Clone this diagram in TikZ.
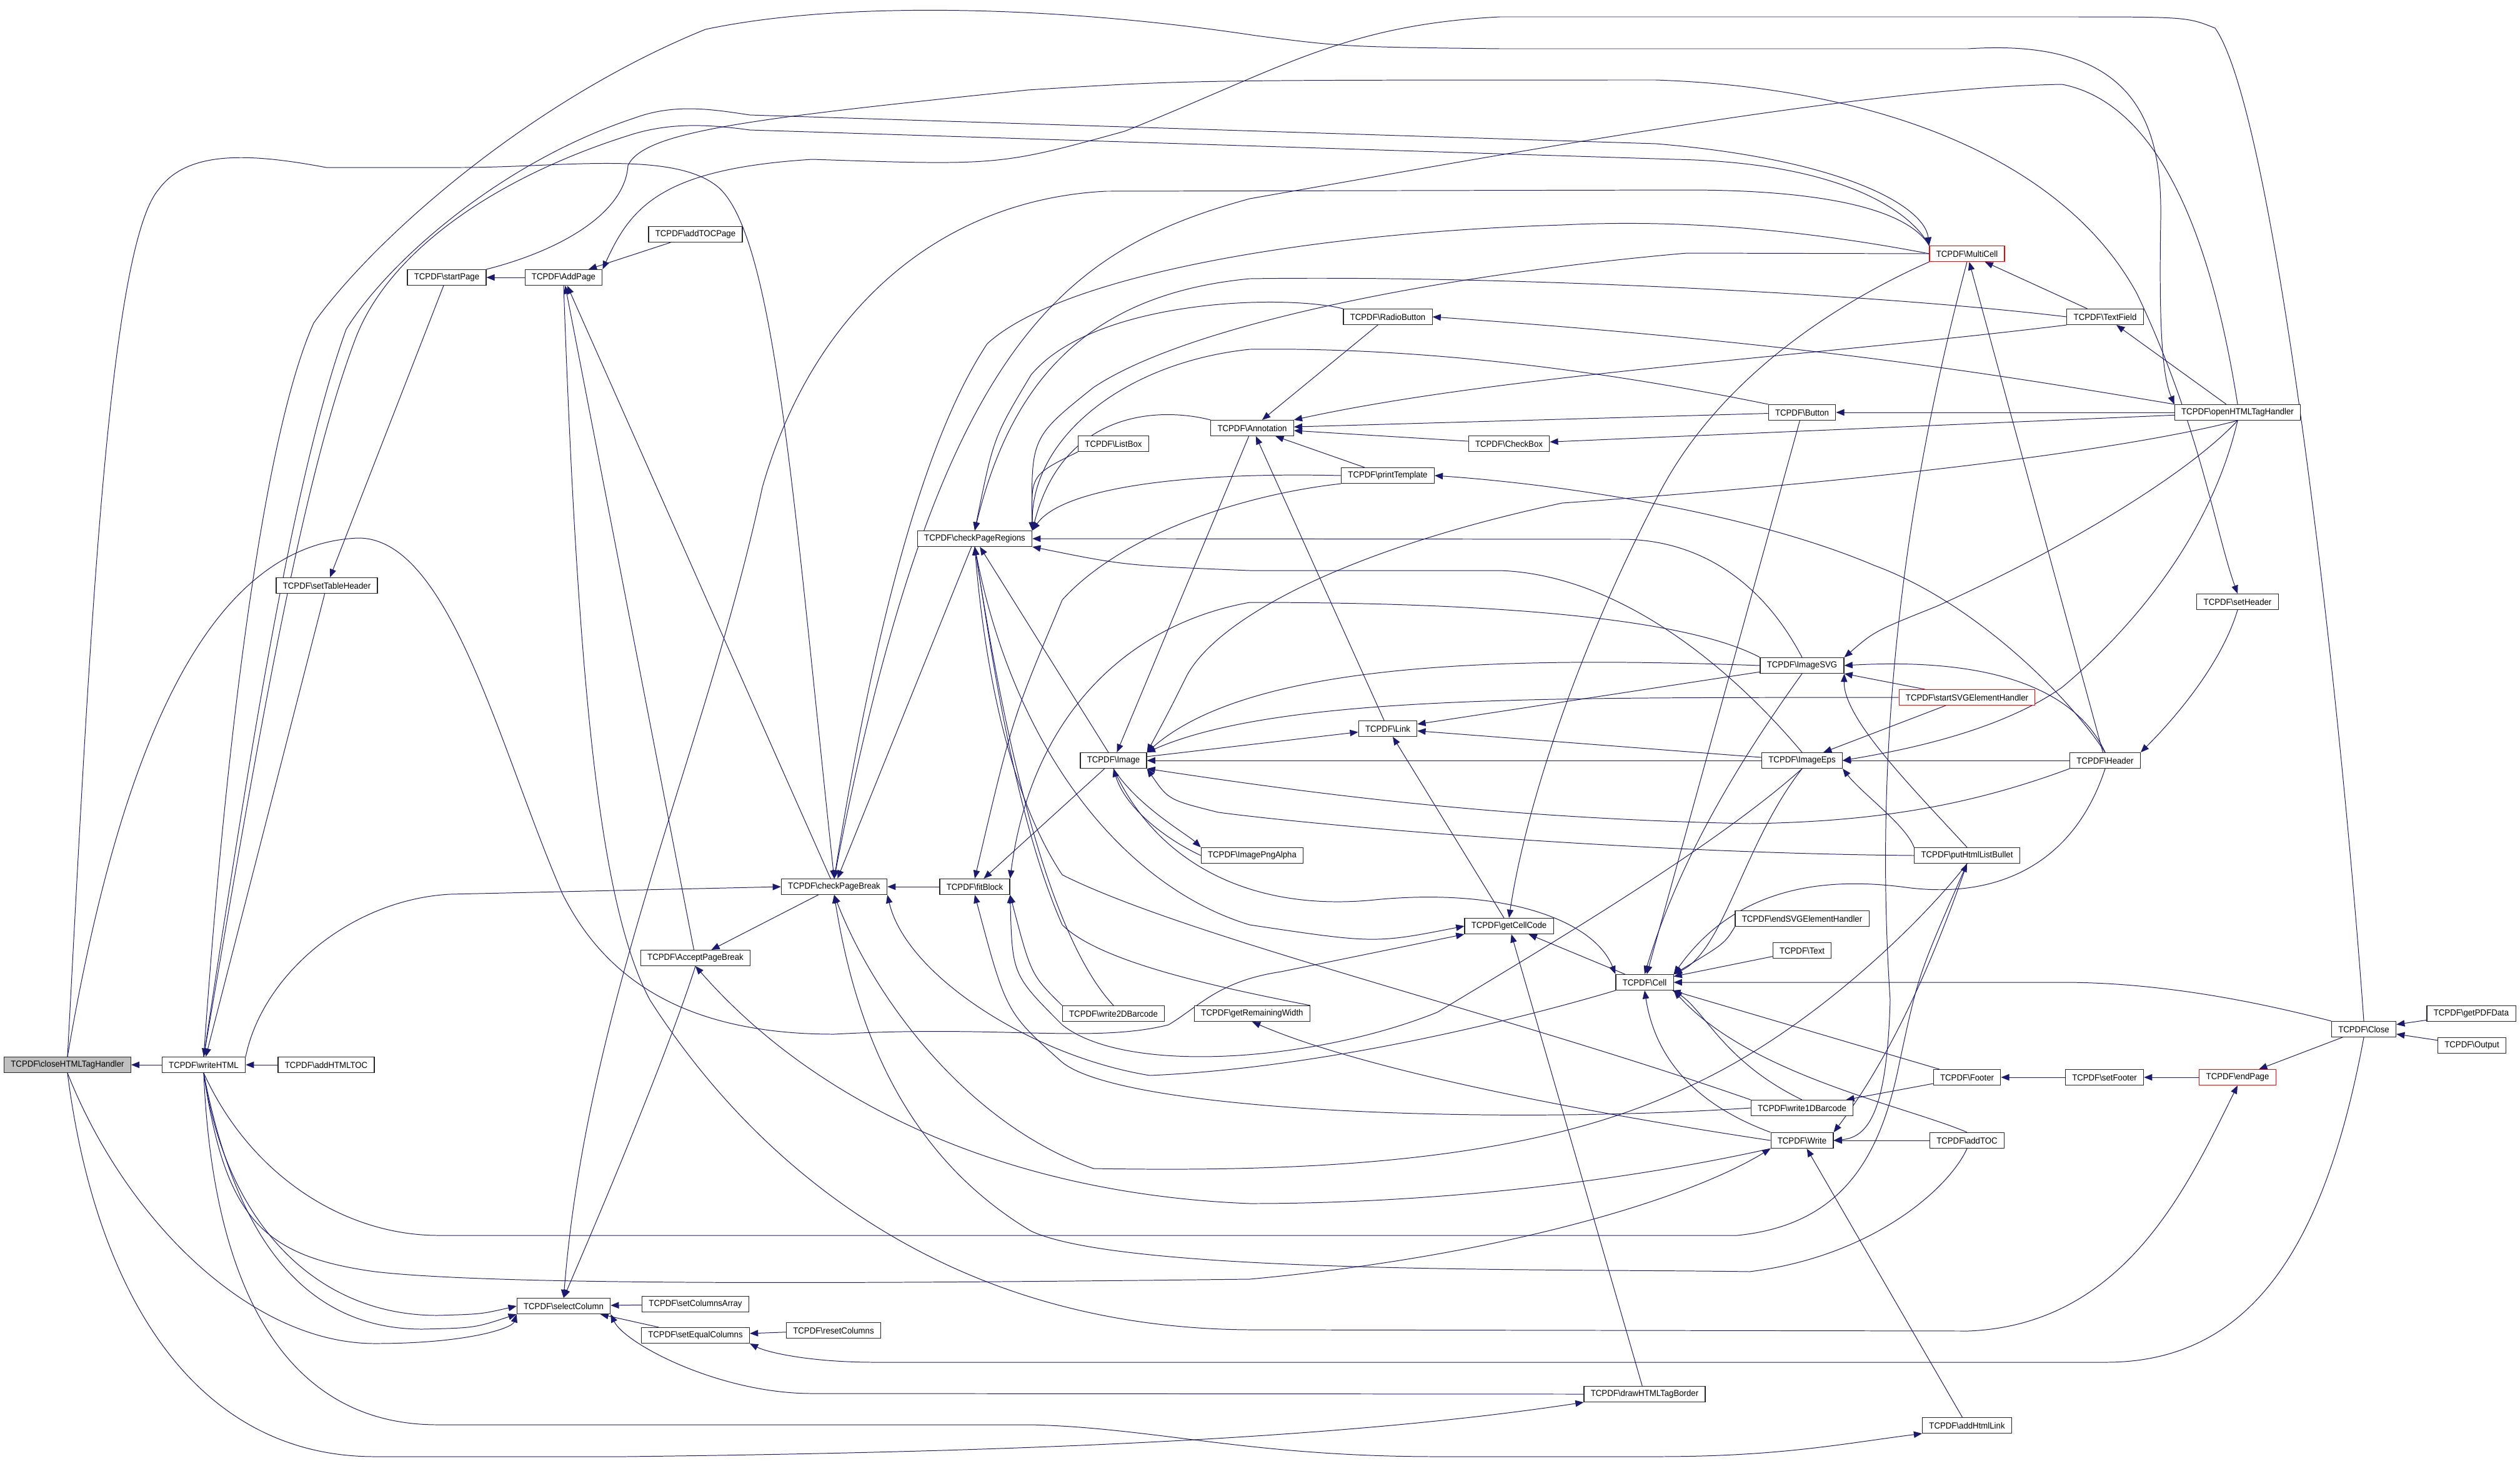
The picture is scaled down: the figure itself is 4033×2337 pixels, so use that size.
\documentclass[tikz,border=0pt]{standalone}
\usepackage{fontspec}
\newfontfamily\dxfont{Liberation Sans}[FakeStretch=0.94]
\usepackage{tikz}
\usetikzlibrary{arrows.meta,backgrounds}
\definecolor{doxyblue}{RGB}{25,25,112}
\definecolor{rootgray}{RGB}{191,191,191}

\begin{document}
\begin{tikzpicture}[x=0.025cm, y=-0.025cm,
    fn/.style={draw=black!85, line width=0.8pt, fill=white, minimum height=0.625cm,
        inner xsep=0.27cm, inner ysep=0pt, font=\dxfont\fontsize{10}{12}\selectfont},
    rootfn/.style={fn, fill=rootgray},
    cutfn/.style={fn, draw=red},
    cg/.style={doxyblue, line width=0.7pt, -{Triangle[length=3.3mm,width=2.6mm]}}]
\useasboundingbox (0,0) rectangle (4033,2337);

% Draw the function boxes
\node[rootfn] (closeHTML) at (108,1704) {TCPDF\textbackslash closeHTMLTagHandler};
\node[cutfn] (MultiCell) at (3148,406) {TCPDF\textbackslash MultiCell};
\node[cutfn] (startSVG) at (3148,1116) {TCPDF\textbackslash startSVGElementHandler};
\node[cutfn] (endPage) at (3581,1724) {TCPDF\textbackslash endPage};
\foreach \name/\x/\y/\fname in {writeHTML/326/1704/writeHTML, addHTMLTOC/522/1704/addHTMLTOC,
    setTableHeader/523/937/setTableHeader, startPage/715/444/startPage, AddPage/902/444/AddPage,
    addTOCPage/1113/375/addTOCPage, checkPageBreak/1335/1419/checkPageBreak,
    AcceptPageBreak/1113/1533/AcceptPageBreak, selectColumn/902/2090/selectColumn,
    setColumnsArray/1113/2087/setColumnsArray, setEqualColumns/1113/2137/setEqualColumns,
    resetColumns/1334/2129/resetColumns, checkPageRegions/1560/862/checkPageRegions,
    ListBox/1782/710/ListBox, Annotation/2004/685/Annotation, RadioButton/2221/507/RadioButton,
    CheckBox/2415/710/CheckBox, printTemplate/2221/761/printTemplate, Link/2221/1166/Link,
    Image/1782/1217/Image, ImagePngAlpha/2004/1369/ImagePngAlpha,
    write2DBarcode/1782/1622/write2DBarcode, getRemainingWidth/2004/1622/getRemainingWidth,
    fitBlock/1560/1419/fitBlock, getCellCode/2415/1482/getCellCode, Cell/2632/1572/Cell,
    Button/2884/660/Button, ImageSVG/2884/1065/ImageSVG, ImageEps/2884/1217/ImageEps,
    TextField/3369/507/TextField, openHTML/3581/660/openHTMLTagHandler,
    setHeader/3581/963/setHeader, Header/3369/1217/Header, putBullet/3148/1369/putHtmlListBullet,
    endSVG/2884/1470/endSVGElementHandler, Text/2884/1521/Text,
    write1DBarcode/2884/1773/write1DBarcode, Write/2884/1825/Write, Footer/3148/1724/Footer,
    setFooter/3368/1724/setFooter, Close/3783/1647/Close, getPDFData/3955/1622/getPDFData,
    Output/3956/1673/Output, addTOC/3148/1825/addTOC, drawBorder/2632/2231/drawHTMLTagBorder,
    addHtmlLink/3148/2281/addHtmlLink} {
    \node[fn] (\name) at (\x,\y) {TCPDF\textbackslash\fname};
}

\begin{scope}[on background layer]
% Draw the short calls
\foreach \from/\to in {writeHTML/closeHTML, addHTMLTOC/writeHTML, setTableHeader/writeHTML,
    startPage/setTableHeader, AddPage/startPage, addTOCPage/AddPage, checkPageBreak/AddPage,
    AcceptPageBreak/AddPage, checkPageBreak/AcceptPageBreak, checkPageRegions/checkPageBreak,
    fitBlock/checkPageBreak, setColumnsArray/selectColumn, setEqualColumns/selectColumn,
    resetColumns/setEqualColumns, drawBorder/getCellCode, addHtmlLink/Write, endPage/setFooter,
    setFooter/Footer, Close/endPage, getPDFData/Close, Output/Close, Footer/Cell,
    Footer/write1DBarcode, Header/ImageEps, Header/MultiCell, openHTML/TextField, openHTML/Button,
    openHTML/CheckBox, TextField/MultiCell, RadioButton/Annotation, Button/Annotation, Button/Cell,
    CheckBox/Annotation, printTemplate/Annotation, Annotation/Image, Link/Annotation, Image/Link,
    ImageSVG/Link, ImageEps/Link, getCellCode/Link, Image/checkPageRegions, Image/fitBlock,
    ImageEps/Image, startSVG/ImageSVG, startSVG/ImageEps, Text/Cell, addTOC/Write, Cell/getCellCode} {
    \draw[cg] (\from) -- (\to);
}

% Long calls over the top
\draw[cg] (Close.north) .. controls (3745,1100) and (3640,180) .. (3545,45) .. controls (3500,27) .. (3300,27) -- (2400,27) .. controls (2150,40) and (2050,110) .. (1800,210) .. controls (1600,265) .. (1300,255) .. controls (1060,270) and (1010,330) .. (AddPage.north east);
\draw[cg] (writeHTML.north) .. controls (360,1200) and (420,700) .. (502,517) .. controls (600,380) and (850,160) .. (1129,47) .. controls (1350,0) and (1700,10) .. (2010,57) .. controls (2150,75) .. (2400,78) -- (3150,78) .. controls (3420,60) and (3460,200) .. (3458,350) .. controls (3455,520) and (3460,600) .. (openHTML.north west);
\draw[cg] (startPage.north east) .. controls (900,400) and (1000,340) .. (1005,265) .. controls (1030,210) and (1200,190) .. (1645,144) .. controls (1900,128) .. (2650,128) .. controls (3000,140) and (3300,250) .. (3420,470) .. controls (3520,680) and (3545,850) .. (setHeader.north);
\draw[cg] (writeHTML.north) .. controls (400,1200) and (470,760) .. (554,527) .. controls (620,420) and (800,260) .. (1015,189) .. controls (1080,165) and (1140,175) .. (1200,184) -- (2650,230) .. controls (2950,255) and (3080,330) .. (MultiCell.north west);
\draw[cg] (MultiCell.north west) .. controls (3060,340) and (2950,260) .. (2680,255) -- (1200,208) .. controls (1140,200) and (1080,195) .. (1015,214) .. controls (800,280) and (620,400) .. (567,547) .. controls (480,780) and (410,1200) .. (writeHTML.north);
\draw[cg] (closeHTML.north) .. controls (140,1100) and (170,400) .. (254,303) .. controls (300,240) and (400,245) .. (522,268) -- (737,268) .. controls (900,268) and (1080,240) .. (1150,300) .. controls (1240,380) and (1270,800) .. (checkPageBreak.north);
\draw[cg] (closeHTML.north) .. controls (200,1150) and (350,870) .. (573,861) .. controls (720,860) and (800,1200) .. (900,1430) .. controls (970,1570) and (1100,1655) .. (1335,1655) .. controls (1600,1640) and (1750,1670) .. (1870,1640) .. controls (1920,1610) and (1950,1570) .. (2050,1555) -- (getCellCode.south west);
\draw[cg] (writeHTML.north east) .. controls (420,1560) and (560,1440) .. (720,1431) -- (checkPageBreak.west);
\draw[cg] (openHTML.north) .. controls (3550,450) and (3480,170) .. (3300,135) .. controls (3000,140) and (2500,230) .. (2000,318) .. controls (1700,400) and (1500,550) .. (checkPageBreak.north);
\draw[cg] (MultiCell.west) .. controls (2900,370) and (2700,350) .. (2500,360) .. controls (2100,372) and (1700,440) .. (1580,550) .. controls (1480,700) and (1400,1000) .. (checkPageBreak.north);
\draw[cg] (MultiCell.north west) .. controls (3050,330) and (2900,304) .. (2700,304) -- (1770,306) .. controls (1500,320) and (1300,500) .. (1220,780) .. controls (1130,1200) and (940,1600) .. (selectColumn.north);
\draw[cg] (MultiCell.west) -- (2700,405) .. controls (2300,440) and (1900,520) .. (1750,620) .. controls (1650,700) .. (checkPageRegions.north east);
\draw[cg] (MultiCell.south west) .. controls (2950,480) and (2750,600) .. (2650,800) .. controls (2520,1050) and (2440,1300) .. (getCellCode.north);
\draw[cg] (MultiCell.south) .. controls (3060,750) and (2995,1150) .. (3025,1600) .. controls (3020,1780) and (2990,1820) .. (Write.east);

% Long calls along the bottom
\draw[cg] (closeHTML.south) .. controls (200,1950) and (400,2150) .. (600,2150) .. controls (750,2150) and (820,2125) .. (selectColumn.south west);
\draw[cg] (writeHTML.south) .. controls (360,1950) and (500,2105) .. (700,2105) .. controls (770,2103) .. (selectColumn.west);
\draw[cg] (writeHTML.south) .. controls (380,2000) and (500,2127) .. (676,2127) .. controls (760,2125) .. (selectColumn.south west);
\draw[cg] (closeHTML.south) .. controls (150,2050) and (300,2331) .. (600,2331) -- (1000,2331) .. controls (1500,2325) and (2100,2310) .. (drawBorder.south west);
\draw[cg] (writeHTML.south) .. controls (340,2050) and (450,2280) .. (700,2280) -- (1650,2280) .. controls (1850,2285) and (2000,2331) .. (2300,2331) -- (2650,2331) .. controls (2850,2331) and (2950,2310) .. (addHtmlLink.south west);
\draw[cg] (writeHTML.south) .. controls (360,1950) and (420,2010) .. (600,2035) .. controls (800,2058) and (1400,2054) .. (2000,2047) .. controls (2400,2010) and (2700,1920) .. (Write.south west);
\draw[cg] (writeHTML.south) .. controls (400,1880) and (550,1977) .. (702,1977) -- (2780,1977) .. controls (2950,1960) and (3010,1850) .. (3040,1700) .. controls (3070,1560) .. (putBullet.south);
\draw[cg] (AddPage.south) .. controls (925,1100) and (960,1450) .. (1040,1600) .. controls (1200,1850) and (1500,2125) .. (2000,2128) -- (3150,2130) .. controls (3400,2120) and (3500,1900) .. (endPage.south);
\draw[cg] (AcceptPageBreak.south) .. controls (1080,1650) and (1000,1850) .. (selectColumn.north);
\draw[cg] (Write.south west) .. controls (2600,1890) and (2300,1926) .. (2000,1926) .. controls (1600,1910) and (1300,1760) .. (AcceptPageBreak.south);
\draw[cg] (addTOC.south) .. controls (3120,1900) and (3000,2010) .. (2800,2035) .. controls (2500,2030) and (1800,2040) .. (1650,1970) .. controls (1450,1850) and (1370,1650) .. (checkPageBreak.south);
\draw[cg] (putBullet.south) .. controls (3080,1470) and (2900,1650) .. (2700,1740) .. controls (2450,1860) and (2100,1876) .. (1750,1870) .. controls (1550,1800) and (1400,1600) .. (checkPageBreak.south);
\draw[cg] (Cell.south west) .. controls (2400,1640) and (2100,1710) .. (1840,1721) .. controls (1650,1690) and (1450,1560) .. (checkPageBreak.south east);
\draw[cg] (Close.south) .. controls (3720,2000) and (3600,2180) .. (3370,2180) -- (1400,2180) .. controls (1300,2180) and (1230,2165) .. (setEqualColumns.south east);
\draw[cg] (drawBorder.west) -- (1300,2230) .. controls (1150,2230) and (1000,2150) .. (selectColumn.south east);
\draw[cg] (Close.north west) .. controls (3600,1600) and (3450,1572) .. (3300,1572) -- (Cell.east);

% Header and HTML tag handler calls
\draw[cg] (setHeader.south) .. controls (3550,1080) and (3450,1180) .. (Header.north east);
\draw[cg] (Header.south west) .. controls (3150,1290) and (3000,1315) .. (2800,1318) .. controls (2400,1310) and (2100,1270) .. (Image.south east);
\draw[cg] (Header.north) .. controls (3330,1120) and (3220,1050) .. (ImageSVG.east);
\draw[cg] (Header.north) .. controls (3300,1100) and (3150,960) .. (3000,905) .. controls (2800,820) and (2500,775) .. (printTemplate.east);
\draw[cg] (Header.south) .. controls (3320,1380) and (3200,1440) .. (3050,1420) .. controls (2900,1400) and (2770,1430) .. (Cell.north east);
\draw[cg] (openHTML.north west) .. controls (3200,600) and (2900,550) .. (RadioButton.east);
\draw[cg] (openHTML.south) .. controls (3400,720) and (3000,770) .. (2500,805) .. controls (2150,880) and (1950,990) .. (1900,1080) .. controls (1870,1140) .. (Image.north east);
\draw[cg] (openHTML.south) .. controls (3500,760) and (3300,880) .. (3100,970) .. controls (3000,1010) .. (ImageSVG.north east);
\draw[cg] (openHTML.south) .. controls (3540,850) and (3420,1000) .. (3300,1100) .. controls (3200,1170) and (3050,1200) .. (ImageEps.east);

% Form fields and annotations
\draw[cg] (TextField.west) .. controls (3000,470) and (2400,440) .. (2000,446) .. controls (1750,470) and (1620,600) .. (checkPageRegions.north);
\draw[cg] (TextField.south west) .. controls (2900,570) and (2400,600) .. (Annotation.north east);
\draw[cg] (RadioButton.north west) .. controls (2050,470) and (1750,480) .. (1650,600) .. controls (1590,700) .. (checkPageRegions.north);
\draw[cg] (Button.north west) .. controls (2600,600) and (2300,555) .. (2000,559) .. controls (1800,580) and (1650,700) .. (checkPageRegions.north east);
\draw[cg] (ListBox.south west) .. controls (1650,760) .. (checkPageRegions.north east);
\draw[cg] (printTemplate.west) .. controls (1900,755) and (1700,780) .. (checkPageRegions.north east);
\draw[cg] (printTemplate.south west) .. controls (2000,790) and (1800,850) .. (1700,960) .. controls (1620,1150) .. (fitBlock.north);
\draw[cg] (Annotation.north west) .. controls (1850,650) and (1700,660) .. (checkPageRegions.north east);

% Image calls
\draw[cg] (Image.south) .. controls (1820,1290) and (1900,1335) .. (ImagePngAlpha.north west);
\draw[cg] (ImagePngAlpha.west) .. controls (1860,1340) and (1800,1290) .. (Image.south);
\draw[cg] (Image.south) .. controls (1850,1380) and (2000,1460) .. (2200,1440) .. controls (2400,1420) and (2550,1470) .. (Cell.north west);
\draw[cg] (ImageSVG.west) .. controls (2400,1050) and (2000,1060) .. (Image.north east);
\draw[cg] (startSVG.west) .. controls (2500,1117) and (2050,1110) .. (Image.north east);
\draw[cg] (putBullet.west) .. controls (2600,1365) and (2100,1320) .. (1950,1300) .. controls (1870,1280) .. (Image.south east);
\draw[cg] (ImageSVG.north) .. controls (2820,930) and (2720,865) .. (2600,863) -- (checkPageRegions.east);
\draw[cg] (ImageSVG.north west) .. controls (2700,990) and (2400,964) .. (2000,964) .. controls (1800,1000) and (1650,1150) .. (fitBlock.north east);
\draw[cg] (ImageSVG.south) .. controls (2760,1250) and (2680,1400) .. (Cell.north);
\draw[cg] (ImageEps.north) .. controls (2780,1080) and (2600,920) .. (2400,913) -- (2000,913) .. controls (1800,905) .. (checkPageRegions.south east);
\draw[cg] (ImageEps.south) .. controls (2750,1350) and (2500,1500) .. (2300,1620) .. controls (2100,1700) and (1800,1720) .. (1700,1640) .. controls (1620,1560) .. (fitBlock.south east);
\draw[cg] (ImageEps.south) .. controls (2790,1350) and (2760,1520) .. (Cell.north east);
\draw[cg] (putBullet.north) .. controls (3060,1260) and (2950,1150) .. (ImageSVG.south east);
\draw[cg] (putBullet.north west) .. controls (3050,1320) and (2980,1270) .. (ImageEps.south east);

% Barcodes, Write and cell code
\draw[cg] (write1DBarcode.west) .. controls (2400,1800) and (1800,1780) .. (1700,1700) .. controls (1610,1620) .. (fitBlock.south);
\draw[cg] (write1DBarcode.north west) .. controls (2400,1620) and (1900,1500) .. (1700,1400) .. controls (1600,1250) and (1570,1000) .. (checkPageRegions.south);
\draw[cg] (write1DBarcode.north) .. controls (2760,1700) and (2730,1620) .. (Cell.south east);
\draw[cg] (write2DBarcode.north west) .. controls (1650,1560) .. (fitBlock.south east);
\draw[cg] (write2DBarcode.north) .. controls (1680,1500) and (1610,1200) .. (checkPageRegions.south);
\draw[cg] (getRemainingWidth.north east) .. controls (1950,1580) and (1760,1540) .. (1700,1480) .. controls (1620,1300) and (1580,1000) .. (checkPageRegions.south);
\draw[cg] (Write.north west) .. controls (2720,1770) and (2650,1700) .. (Cell.south);
\draw[cg] (Write.west) .. controls (2600,1790) and (2200,1720) .. (getRemainingWidth.south);
\draw[cg] (putBullet.south) .. controls (3090,1550) and (3020,1700) .. (Write.north east);
\draw[cg] (endSVG.south west) .. controls (2760,1510) .. (Cell.north east);
\draw[cg] (addTOC.north) .. controls (3050,1770) and (2800,1720) .. (Cell.south east);
\draw[cg] (checkPageRegions.south) .. controls (1620,1200) and (1800,1420) .. (2000,1480) .. controls (2200,1510) .. (getCellCode.west);
\end{scope}
\end{tikzpicture}
\end{document}
